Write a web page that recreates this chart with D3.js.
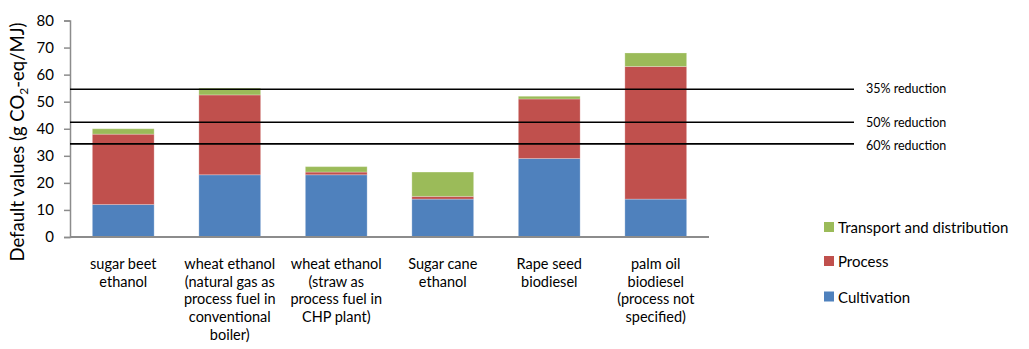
<!DOCTYPE html>
<html><head><meta charset="utf-8">
<script src="https://cdn.jsdelivr.net/npm/d3@7"></script>
<style>body{margin:0;background:#fff}svg{display:block;font-family:Lato,"Open Sans",sans-serif}</style>
</head><body><svg id="c" width="1029" height="349"></svg>
<script>
const categories = [
  ["sugar beet","ethanol"],
  ["wheat ethanol","(natural gas as","process fuel in","conventional","boiler)"],
  ["wheat ethanol","(straw as","process fuel in","CHP plant)"],
  ["Sugar cane","ethanol"],
  ["Rape seed","biodiesel"],
  ["palm oil","biodiesel","(process not","specified)"]
];
const cultivation = [12, 23, 23, 14, 29, 14];
const processVals = [26, 29.5, 1, 1, 22, 49];
const transport = [2, 2.5, 2, 9, 1, 5];
const seriesNames = ["Cultivation","Process","Transport and distribution"];
const seriesColors = ["#4F81BD","#C0504D","#9BBB59"];
const yTicks = [0,10,20,30,40,50,60,70,80];
const reductionValues = [54.6, 42.4, 34.4];
const reductionLabels = ["35% reduction","50% reduction","60% reduction"];

const svg = d3.select("#c");
const x0 = 70, x1 = 709, yb = 237, yt = 20.5;
const x = d3.scaleBand().domain(d3.range(categories.length)).range([x0, x1]).paddingInner(0.42).paddingOuter(0.21);
const y = d3.scaleLinear().domain([0, 80]).range([yb, yt]);

const rows = categories.map((c, i) => ({i, cultivation: cultivation[i], process: processVals[i], transport: transport[i]}));
const stack = d3.stack().keys(["cultivation","process","transport"])(rows);

const defs = svg.append("defs");
defs.append("filter").attr("id","sh").attr("x","-5%").attr("y","-300%").attr("width","110%").attr("height","700%")
  .append("feGaussianBlur").attr("stdDeviation", 2);

// bars
stack.forEach((s, k) => {
  svg.append("g").selectAll("rect").data(s).join("rect")
    .attr("x", d => x(d.data.i)).attr("width", x.bandwidth())
    .attr("y", d => y(d[1])).attr("height", d => y(d[0]) - y(d[1]))
    .attr("fill", seriesColors[k])
    .attr("stroke", "rgba(255,255,255,0.25)").attr("stroke-width", 1);
});

// y axis
const ya = svg.append("g").attr("transform", `translate(${x0},0)`)
  .call(d3.axisLeft(y).tickValues(yTicks).tickSize(6).tickPadding(10));
ya.select(".domain").attr("stroke", "#8c8c8c").attr("stroke-width", 1.5);
ya.selectAll(".tick line").attr("stroke", "#8c8c8c").attr("stroke-width", 1.5);
ya.selectAll(".tick text").attr("font-size", 15).attr("fill", "#000").attr("font-family", "Lato");

// x axis line
svg.append("line").attr("x1", x0).attr("x2", x1).attr("y1", y(0)).attr("y2", y(0))
  .attr("stroke", "#8c8c8c").attr("stroke-width", 2);

// reduction lines
const lineEnd = 854;
reductionValues.forEach((v, i) => {
  svg.append("line").attr("x1", x0).attr("x2", lineEnd).attr("y1", y(v) + 3).attr("y2", y(v) + 3)
    .attr("stroke", "#999").attr("stroke-width", 3).attr("filter", "url(#sh)").attr("opacity", 0.8);
  svg.append("line").attr("x1", x0).attr("x2", lineEnd).attr("y1", y(v)).attr("y2", y(v))
    .attr("stroke", "#000").attr("stroke-width", 1.6);
  svg.append("text").attr("x", 866).attr("y", y(v) + (i === 0 ? -1 : i === 2 ? 1.5 : 0)).attr("dy", "0.35em")
    .attr("font-size", 12.5).text(reductionLabels[i]);
});

// category labels
categories.forEach((lines, i) => {
  const t = svg.append("text").attr("text-anchor", "middle").attr("font-size", 14.5)
    .attr("x", x(i) + x.bandwidth() / 2).attr("y", 264).attr("dy", "0.35em");
  lines.forEach((l, j) => t.append("tspan").attr("x", x(i) + x.bandwidth() / 2).attr("dy", j === 0 ? "0.35em" : 17.7).text(l));
});

// y title
const yt2 = svg.append("text").attr("transform", "translate(24,142) rotate(-90)")
  .attr("text-anchor", "middle").attr("font-size", 18.5);
yt2.append("tspan").text("Default values (g CO");
yt2.append("tspan").attr("font-size", 12).attr("dy", 4).text("2");
yt2.append("tspan").attr("dy", -4).text("-eq/MJ)");

// legend
const legY = [297.5, 262, 228];
[2, 1, 0].forEach(k => {
  svg.append("rect").attr("x", 824).attr("y", legY[k] - 6).attr("width", 10).attr("height", 10).attr("fill", seriesColors[k]);
  svg.append("text").attr("x", 838).attr("y", legY[k]).attr("dy", "0.35em").attr("font-size", 15).text(seriesNames[k]);
});
</script></body></html>
